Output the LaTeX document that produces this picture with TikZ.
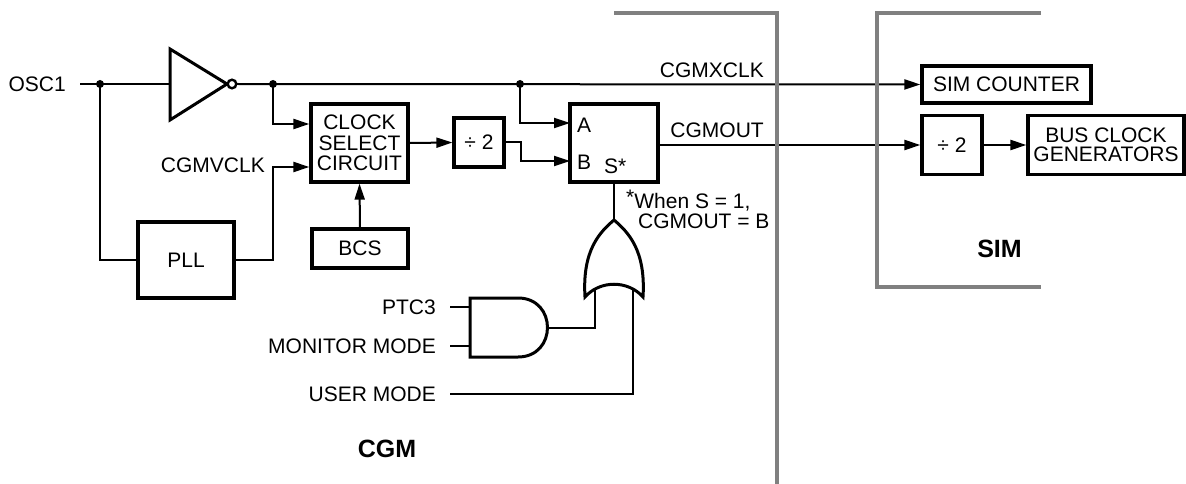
\documentclass[tikz,border=0pt]{standalone}
\usepackage{fontspec}
\setmainfont{Liberation Sans}
\usetikzlibrary{arrows.meta}
\definecolor{bnd}{HTML}{808080}
\newcommand{\lbl}{\fontsize{21}{20.5}\selectfont}
\begin{document}
\begin{tikzpicture}[x=1pt,y=-1pt,
  box/.style={draw,line width=3.2pt,inner sep=0pt,align=center,font=\lbl},
  txt/.style={inner sep=0pt,font=\lbl},
  wire/.style={line width=2pt},
  arr/.style={wire,-{Triangle[length=16pt,width=10pt]}},
  dotn/.style={circle,fill,inner sep=0pt,minimum size=8pt},
  gate/.style={line width=3pt,line join=miter},
  bound/.style={line width=3.8pt,draw=bnd}]
\useasboundingbox (0,0) rectangle (1186,484);

% boxes
\node[box,minimum width=97pt,minimum height=78pt] (clk) at (359.5,143) {CLOCK\\SELECT\\CIRCUIT};
\node[box,minimum width=96pt,minimum height=76pt] (pll) at (186,260) {PLL};
\node[box,minimum width=96pt,minimum height=39pt] (bcs) at (360,248.5) {BCS};
\node[box,minimum width=50pt,minimum height=49pt] (div1) at (479,142.5) {÷ 2};
\node[box,minimum width=88pt,minimum height=78pt] (mux) at (614,143) {};
\node[box,minimum width=169pt,minimum height=37pt] (simc) at (1006.5,84.5) {SIM COUNTER};
\node[box,minimum width=60pt,minimum height=59pt] (div2) at (952,145) {÷ 2};
\node[box,minimum width=156pt,minimum height=59pt,font=\fontsize{21}{19}\selectfont] (bus) at (1106,145) {BUS CLOCK\\GENERATORS};

% mux labels
\node[txt,anchor=west] (la) at (577,125) {A};
\node[txt,anchor=west] (lb) at (577,162) {B};
\node[txt,anchor=base west] (ls) at (604,173) {S*};

% coordinates
\coordinate (oscin) at (80,84);
\coordinate (d1) at (100,84);
\coordinate (invin) at (170,84);
\coordinate (invout) at (237,84);
\coordinate (d2) at (273,84);
\coordinate (d3) at (520,84);
\coordinate (clkA) at (clk.west |- 0,124);
\coordinate (clkB) at (clk.west |- 0,167);
\coordinate (cvk) at (273,167);
\coordinate (muxA) at (570,123);
\coordinate (muxB) at (570,161);
\coordinate (jb) at (521,161);
\coordinate (mo) at (658,145);
\coordinate (ortip) at (614,220);
\coordinate (andout) at (548,327.5);
\coordinate (orL) at (595,285);
\coordinate (orR) at (633,285);
\coordinate (andA) at (470,307);
\coordinate (andB) at (470,346);
\coordinate (inA) at (450,307);
\coordinate (inB) at (450,346);
\coordinate (inU) at (450,394);

% wires
\draw[wire] (oscin) -- (invin);
\draw[wire] (d1) |- (pll.west);
\draw[arr] (invout) -- (simc.west);
\draw[arr] (d2) |- (clkA);
\draw[arr] (pll.east) -| (cvk) -- (clkB);
\draw[arr] (bcs.north) -- (clk.south);
\draw[arr] (clk.east) -- (div1.west);
\draw[arr] (div1.east) -| (jb) -- (muxB);
\draw[arr] (d3) |- (muxA);
\draw[arr] (mo) -- (div2.west);
\draw[arr] (div2.east) -- (bus.west);
\draw[wire] (mux.south) -- (ortip);
\draw[wire] (andout) -| (orL);
\draw[wire] (inU) -| (orR);
\draw[wire] (inA) -- (andA);
\draw[wire] (inB) -- (andB);

\node[dotn] (n1) at (d1) {};
\node[dotn] (n2) at (d2) {};
\node[dotn] (n3) at (d3) {};

% inverter
\draw[gate] (170,49) -- (227,84) -- (170,120) -- cycle;
\draw[line width=2.4pt,fill=white] (232,84) circle[radius=4.3pt];

% AND gate
\draw[gate,fill=white] (470,298) -- (518,298) .. controls (557.3,298) and (557.3,357) .. (518,357) -- (470,357) -- cycle;

% OR gate
\draw[gate,fill=white] (585,297) .. controls (582,250) and (600,232) .. (ortip)
  .. controls (628,232) and (646,250) .. (643,297)
  .. controls (628,280) and (600,280) .. (585,297) -- cycle;

% labels
\node[txt,anchor=east] (tosc) at (66,84) {OSC1};
\node[txt,anchor=east] (tcv) at (265,165) {CGMVCLK};
\node[txt,anchor=east] (tcx) at (764,70) {CGMXCLK};
\node[txt,anchor=east] (tco) at (764,130) {CGMOUT};
\node[txt,anchor=base west] (tw1) at (626,208) {\raisebox{4pt}{*}When S = 1,};
\node[txt,anchor=base west] (tw2) at (638,228) {CGMOUT = B};
\node[txt,anchor=east] (tp) at (436,307) {PTC3};
\node[txt,anchor=east] (tm) at (436,346) {MONITOR MODE};
\node[txt,anchor=east] (tu) at (436,394) {USER MODE};
\node[txt,font=\fontsize{25}{25}\selectfont\bfseries] (tcgm) at (387,449) {CGM};
\node[txt,font=\fontsize{25}{25}\selectfont\bfseries] (tsim) at (999.5,248.5) {SIM};

% boundaries
\draw[bound] (614,13) -- (777,13) -- (777,484);
\draw[bound] (1041,13) -- (877,13) -- (877,287) -- (1041,287);
\end{tikzpicture}
\end{document}
